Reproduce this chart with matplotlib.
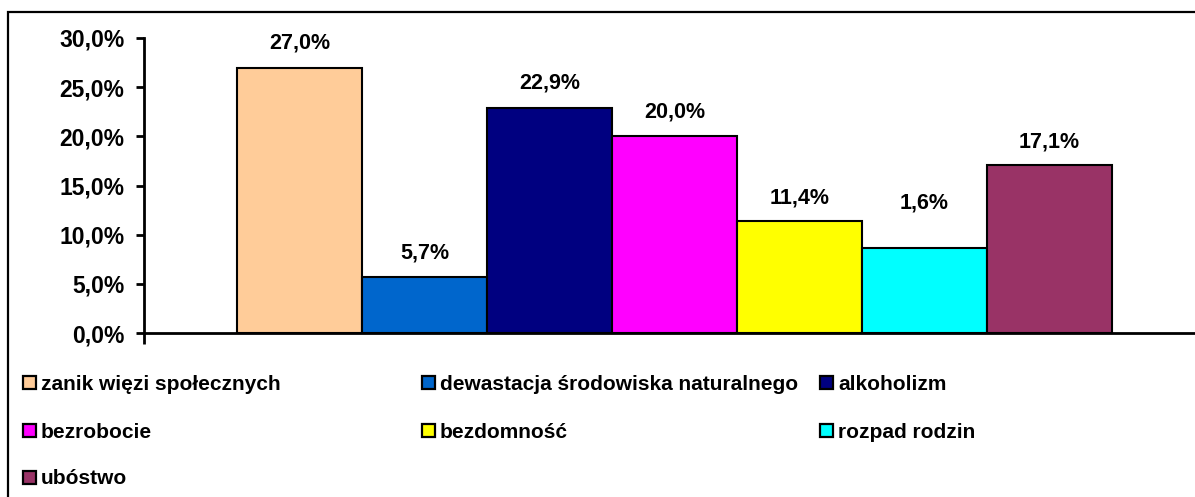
import numpy as np
import matplotlib.pyplot as plt
from matplotlib.patches import Rectangle

plt.rcParams['font.family'] = ['Liberation Sans', 'DejaVu Sans']
plt.rcParams['font.weight'] = 'bold'

categories = ['zanik więzi społecznych', 'dewastacja środowiska naturalnego', 'alkoholizm',
              'bezrobocie', 'bezdomność', 'rozpad rodzin', 'ubóstwo']
values = [27.0, 5.7, 22.9, 20.0, 11.4, 8.6, 17.1]
value_labels = ['27,0%', '5,7%', '22,9%', '20,0%', '11,4%', '1,6%', '17,1%']
yticks = [0, 5, 10, 15, 20, 25, 30]
colors = ['#FFCC99', '#0066CC', '#000080', '#FF00FF', '#FFFF00', '#00FFFF', '#993366']

W, H = 1195, 497
fig = plt.figure(figsize=(W / 100, H / 100), dpi=100)

# plot area in pixels (right side runs past the image edge like the original)
left, right, top, bottom = 144, 1205, 38, 333
ax = fig.add_axes([left / W, 1 - bottom / H, (right - left) / W, (bottom - top) / H])

x = np.arange(len(values))
ax.bar(x, values, width=1.0, color=colors, edgecolor='black', linewidth=1.5, zorder=3)

# label offsets in px (the "1,6%" label sits higher above its bar)
offsets = [25, 24, 25, 24, 23, 45, 23]
for xi, v, lab, off in zip(x, values, value_labels, offsets):
    ax.annotate(lab, (xi, v), xytext=(0, off * 0.72), textcoords='offset points',
                ha='center', va='center', fontsize=15.5, fontweight='bold')

ax.set_xlim(-0.5 - 0.745, len(values) - 0.5 + 0.745)
ax.set_ylim(0, 30)
ax.set_yticks(yticks)
ax.set_yticklabels([f'{t:.1f}%'.replace('.', ',') for t in yticks], fontsize=16.5, fontweight='bold')
ax.set_xticks(ax.get_xlim())
ax.set_xticklabels([])
ax.tick_params(axis='y', direction='out', length=6, width=2, pad=8)
ax.tick_params(axis='x', direction='out', length=8, width=2)
for s in ['top', 'right']:
    ax.spines[s].set_visible(False)
for s in ['left', 'bottom']:
    ax.spines[s].set_linewidth(2)

# legend, drawn row by row in three columns
col_x = [23, 422, 820]
row_y = [382, 430, 477]
for i, (name, c) in enumerate(zip(categories, colors)):
    cx, cy = col_x[i % 3], row_y[i // 3]
    fig.patches.append(Rectangle((cx / W, 1 - (cy + 6.5) / H), 13 / W, 13 / H,
                                 transform=fig.transFigure, facecolor=c,
                                 edgecolor='black', linewidth=1.6))
    fig.text((cx + 18) / W, 1 - cy / H, name, ha='left', va='center_baseline',
             fontsize=15, fontweight='bold')

# outer chart border
fig.patches.append(Rectangle((8 / W, -0.1), 1.2, 1 - 12 / H + 0.1, transform=fig.transFigure,
                             fill=False, edgecolor='black', linewidth=1.6))

fig.savefig('out.png', dpi=100)
